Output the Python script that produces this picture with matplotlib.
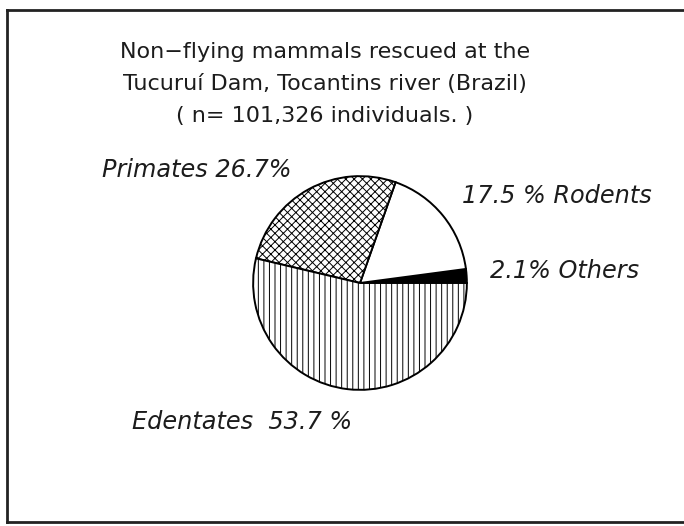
import matplotlib
matplotlib.use("Agg")
import matplotlib.pyplot as plt
from matplotlib.lines import Line2D

# data (counter-clockwise from 3 o'clock)
groups = ["Others", "Rodents", "Primates", "Edentates"]
shares = [2.1, 17.5, 26.7, 53.7]
hatches = ["", "", "xxxx", "|||"]
colors = ["black", "white", "white", "white"]

title = ("Non\u2212flying mammals rescued at the\n"
         "Tucuruí Dam, Tocantins river (Brazil)\n"
         "( n= 101,326 individuals. )")

plt.rcParams['hatch.linewidth'] = 0.7
plt.rcParams['font.family'] = ['DejaVu Sans']

fig = plt.figure(figsize=(6.84, 5.26), dpi=100)

# pie centre ~ (360, 283) px, radius ~109 px
W, H = 684, 526
cx, cy, r = 360, 283, 109
ax = fig.add_axes([(cx - r) / W, (H - cy - r) / H, 2 * r / W, 2 * r / H])
wedges, _ = ax.pie(shares, startangle=0, counterclock=True, colors=colors,
                   wedgeprops=dict(edgecolor="black", linewidth=1.4))
for w, h in zip(wedges, hatches):
    w.set_hatch(h)
ax.set_xlim(-1.02, 1.02)
ax.set_ylim(-1.02, 1.02)
ax.set_aspect("equal")

ink = "#1c1c1c"
fig.text(325 / W, 1 - 84 / H, title, ha="center", va="center", fontsize=16,
         color=ink, linespacing=1.78)

lab = dict(fontsize=17.3, style="italic", color=ink, va="center")
fig.text(102 / W, 1 - 170 / H, f"{groups[2]} {shares[2]}%", ha="left", **lab)
fig.text(462 / W, 1 - 196 / H, f"{shares[1]} % {groups[1]}", ha="left", **lab)
fig.text(490 / W, 1 - 271 / H, f"{shares[0]}% {groups[0]}", ha="left", **lab)
fig.text(132 / W, 1 - 422 / H, f"{groups[3]}  {shares[3]} %", ha="left", **lab)

# outer frame (right side runs off the page)
for xs, ys in [((7, 7), (10, 522)), ((7, 684), (10, 10)), ((7, 684), (522, 522))]:
    fig.add_artist(Line2D([x / W for x in xs], [1 - y / H for y in ys],
                          color="#222222", linewidth=2))

fig.savefig("out.png", dpi=100)
